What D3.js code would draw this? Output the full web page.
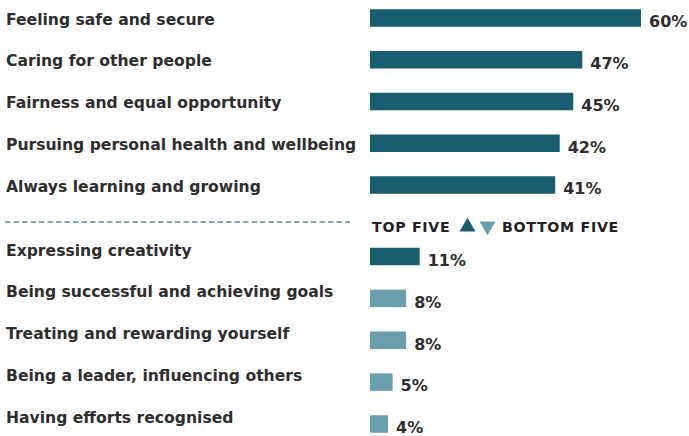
<!DOCTYPE html>
<html>
<head>
<meta charset="utf-8">
<script src="https://cdn.jsdelivr.net/npm/d3@7/dist/d3.min.js"></script>
<style>
  html, body { margin: 0; padding: 0; background: #ffffff; }
  svg { display: block; }
  text { font-family: "DejaVu Sans", sans-serif; }
</style>
</head>
<body>
<svg id="chart" width="689" height="436"></svg>
<script>
// Values people say matter most and least to them (% of respondents)
const topCategories = [
  "Feeling safe and secure",
  "Caring for other people",
  "Fairness and equal opportunity",
  "Pursuing personal health and wellbeing",
  "Always learning and growing"
];
const topValues = [60, 47, 45, 42, 41];

const bottomCategories = [
  "Expressing creativity",
  "Being successful and achieving goals",
  "Treating and rewarding yourself",
  "Being a leader, influencing others",
  "Having efforts recognised"
];
const bottomValues = [11, 8, 8, 5, 4];

const legendLabels = ["TOP FIVE", "BOTTOM FIVE"];

const DARK = "#195d70";
const LIGHT = "#6b9eab";
const TEXT = "#2e2e2e";

const svg = d3.select("#chart");

const barX0 = 370;
const x = d3.scaleLinear().domain([0, 60]).range([barX0, 641]);

const yTop = d3.scalePoint().domain(topCategories).range([18, 185]);
const yBottom = d3.scalePoint().domain(bottomCategories).range([256.5, 424]);

const barH = 17.5;
const labelFont = 15.6;

function drawGroup(cats, vals, y, colorFn, labelShift) {
  const rows = cats.map((c, i) => ({ c, v: vals[i], i }));
  const g = svg.append("g");
  g.selectAll("rect").data(rows).join("rect")
    .attr("x", x(0))
    .attr("y", d => y(d.c) - barH / 2)
    .attr("width", d => x(d.v) - x(0))
    .attr("height", barH)
    .attr("fill", d => colorFn(d));
  g.selectAll("text.cat").data(rows).join("text")
    .attr("class", "cat")
    .attr("x", 6)
    .attr("y", d => y(d.c) + labelShift)
    .attr("dy", "0.36em")
    .attr("fill", TEXT)
    .attr("font-weight", 700)
    .attr("font-size", labelFont)
    .text(d => d.c);
  g.selectAll("text.val").data(rows).join("text")
    .attr("class", "val")
    .attr("x", d => x(d.v) + 8)
    .attr("y", d => y(d.c) + 3.5)
    .attr("dy", "0.36em")
    .attr("fill", TEXT)
    .attr("font-weight", 700)
    .attr("font-size", 16)
    .text(d => d.v + "%");
}

drawGroup(topCategories, topValues, yTop, () => DARK, 1);
drawGroup(bottomCategories, bottomValues, yBottom, d => d.i === 0 ? DARK : LIGHT, -6.5);

// Divider between the two groups
svg.append("line")
  .attr("x1", 5).attr("x2", 350)
  .attr("y1", 222).attr("y2", 222)
  .attr("stroke", "#5b8f9b")
  .attr("stroke-width", 1.4)
  .attr("stroke-dasharray", "5.5,3");

// Legend
const legY = 226.5;
svg.append("text")
  .attr("x", 372).attr("y", legY).attr("dy", "0.36em")
  .attr("fill", "#222").attr("font-weight", 700).attr("font-size", 14.2)
  .attr("letter-spacing", 0.7)
  .text(legendLabels[0]);
svg.append("path")
  .attr("d", d3.symbol(d3.symbolTriangle, 110)())
  .attr("transform", `translate(467.5,${legY + 0.5})`)
  .attr("fill", DARK);
svg.append("path")
  .attr("d", d3.symbol(d3.symbolTriangle, 110)())
  .attr("transform", `translate(487.5,${legY - 0.5}) rotate(180)`)
  .attr("fill", LIGHT);
svg.append("text")
  .attr("x", 502).attr("y", legY).attr("dy", "0.36em")
  .attr("fill", "#222").attr("font-weight", 700).attr("font-size", 14.2)
  .attr("letter-spacing", 0.7)
  .text(legendLabels[1]);
</script>
</body>
</html>
